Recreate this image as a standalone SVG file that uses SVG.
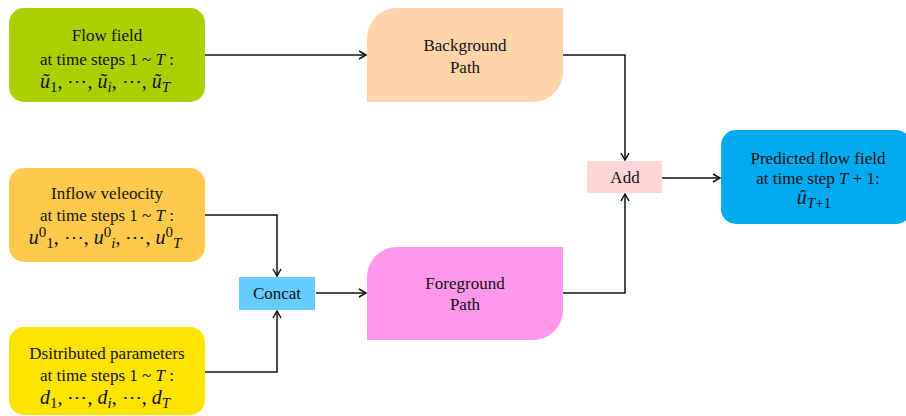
<svg xmlns="http://www.w3.org/2000/svg" width="906" height="416" viewBox="0 0 906 416">
<defs>
<marker id="arr" markerWidth="12" markerHeight="12" refX="9" refY="5" orient="auto" markerUnits="userSpaceOnUse">
<path d="M2,1 L9,5 L2,9" fill="none" stroke="#111" stroke-width="1.5"/>
</marker>
</defs>
<style>
text{font-family:"Liberation Serif","Times New Roman",serif;font-size:17px;fill:#111;text-anchor:middle}
.m{font-size:20px;font-style:italic}
.s{font-size:15px}
.c{stroke:#111;stroke-width:1.5;fill:none}
</style>
<rect width="906" height="416" fill="#fff"/>
<g id="connectors">
<path class="c" d="M205,55 H366" marker-end="url(#arr)"/>
<path class="c" d="M563,55 H625 V160" marker-end="url(#arr)"/>
<path class="c" d="M205,215 H277 V276" marker-end="url(#arr)"/>
<path class="c" d="M205,372 H277 V311" marker-end="url(#arr)"/>
<path class="c" d="M316,293 H366" marker-end="url(#arr)"/>
<path class="c" d="M563,293 H625 V194" marker-end="url(#arr)"/>
<path class="c" d="M662,178 H720" marker-end="url(#arr)"/>
</g>
<g id="flowfield">
<rect x="9" y="8" width="196" height="94" rx="15" fill="#AAD000"/>
<text x="107" y="41">Flow field</text>
<text x="107" y="65">at time steps 1 ~ <tspan font-style="italic">T</tspan> :</text>
<text x="105" y="88" class="m">ũ<tspan class="s" dy="4" font-style="normal">1</tspan><tspan dy="-4" font-style="normal">, ⋯,  </tspan>ũ<tspan class="s" dy="4">i</tspan><tspan dy="-4" font-style="normal">, ⋯, </tspan>ũ<tspan class="s" dy="4">T</tspan></text>
</g>
<g id="inflow">
<rect x="9" y="168" width="196" height="94" rx="15" fill="#FFC94C"/>
<text x="107" y="199">Inflow veleocity</text>
<text x="107" y="221">at time steps 1 ~ <tspan font-style="italic">T</tspan> :</text>
<text x="105" y="244" class="m">u<tspan class="s" dy="-7" font-style="normal">0</tspan><tspan class="s" dy="11" font-style="normal">1</tspan><tspan dy="-4" font-style="normal">, ⋯,  </tspan>u<tspan class="s" dy="-7" font-style="normal">0</tspan><tspan class="s" dy="11">i</tspan><tspan dy="-4" font-style="normal">, ⋯, </tspan>u<tspan class="s" dy="-7" font-style="normal">0</tspan><tspan class="s" dy="11">T</tspan></text>
</g>
<g id="distributed">
<rect x="9" y="327" width="196" height="88" rx="15" fill="#FFE400"/>
<text x="107" y="359">Dsitributed parameters</text>
<text x="107" y="381">at time steps 1 ~ <tspan font-style="italic">T</tspan> :</text>
<text x="105" y="404" class="m">d<tspan class="s" dy="4" font-style="normal">1</tspan><tspan dy="-4" font-style="normal">, ⋯,  </tspan>d<tspan class="s" dy="4">i</tspan><tspan dy="-4" font-style="normal">, ⋯, </tspan>d<tspan class="s" dy="4">T</tspan></text>
</g>
<g id="background">
<path d="M367,102 V38 A30,30 0 0 1 397,8 H563 V72 A30,30 0 0 1 533,102 Z" fill="#FED5AB"/>
<text x="465" y="51">Background</text>
<text x="465" y="73">Path</text>
</g>
<g id="concat">
<rect x="239" y="277" width="76" height="33" fill="#66CCFF"/>
<text x="277" y="299">Concat</text>
</g>
<g id="foreground">
<path d="M367,340 V277 A30,30 0 0 1 397,247 H563 V310 A30,30 0 0 1 533,340 Z" fill="#FF99EE"/>
<text x="465" y="289">Foreground</text>
<text x="465" y="310">Path</text>
</g>
<g id="add">
<rect x="587" y="161" width="75" height="32" fill="#FFD6D6"/>
<text x="625" y="183">Add</text>
</g>
<g id="predicted">
<rect x="721" y="130" width="190" height="94" rx="15" fill="#00AAEE"/>
<text x="818" y="164" font-size="16">Predicted flow field</text>
<text x="818" y="184" font-size="16">at time step <tspan font-style="italic">T</tspan> + 1:</text>
<text x="814" y="204" class="m" font-size="19">û<tspan class="s" dy="4">T</tspan><tspan class="s" dy="0" font-style="normal">+1</tspan></text>
</g>
</svg>
